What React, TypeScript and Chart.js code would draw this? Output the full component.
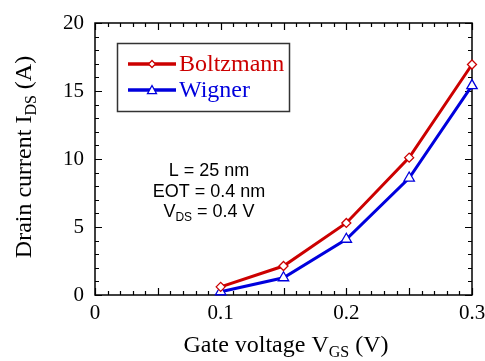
import React, { useEffect, useRef } from "react";
import { Chart, registerables } from "chart.js";

Chart.register(...registerables);

const gateVoltage = [0.1, 0.15, 0.2, 0.25, 0.3];
const boltzmann = [0.6, 2.13, 5.3, 10.1, 16.95];
const wigner = [0.24, 1.27, 4.1, 8.6, 15.4];
const seriesNames = ["Boltzmann", "Wigner"];
const seriesColors = ["#cc0000", "#0000dd"];
const xTickLabels = ["0", "0.1", "0.2", "0.3"];
const yTickLabels = ["0", "5", "10", "15", "20"];
const annotationLines = ["L = 25 nm", "EOT = 0.4 nm", "V_DS = 0.4 V"];

type Part = { t: string; sub?: boolean };

function parseParts(s: string): Part[] {
  const m = s.match(/^(.*?)([A-Z])_([A-Z]+)(.*)$/);
  if (!m) return [{ t: s }];
  return [{ t: m[1] + m[2] }, { t: m[3], sub: true }, { t: m[4] }];
}

function drawParts(
  ctx: CanvasRenderingContext2D,
  parts: Part[],
  cx: number,
  y: number,
  family: string,
  size: number,
  subSize: number,
  subDrop: number,
  color: string
) {
  const widths = parts.map((p) => {
    ctx.font = `${p.sub ? subSize : size}px ${family}`;
    return ctx.measureText(p.t).width;
  });
  const total = widths.reduce((a, b) => a + b, 0);
  let x = cx - total / 2;
  ctx.fillStyle = color;
  ctx.textAlign = "left";
  ctx.textBaseline = "alphabetic";
  parts.forEach((p, i) => {
    ctx.font = `${p.sub ? subSize : size}px ${family}`;
    ctx.fillText(p.t, x, p.sub ? y + subDrop : y);
    x += widths[i];
  });
}

const serif = "'Liberation Serif', 'Times New Roman', serif";

const decorPlugin = {
  id: "decor",
  beforeDatasetsDraw(chart: any) {
    const ctx: CanvasRenderingContext2D = chart.ctx;
    const { left, right, top, bottom } = chart.chartArea;
    const xs = chart.scales.x;
    const ys = chart.scales.y;
    ctx.save();
    ctx.strokeStyle = "#000";
    ctx.lineWidth = 1.2;
    for (let i = 0; i <= 30; i++) {
      const v = i / 100;
      const px = Math.round(xs.getPixelForValue(v)) + 0.5;
      const len = i % 5 === 0 ? 7 : 4;
      ctx.beginPath();
      ctx.moveTo(px, bottom);
      ctx.lineTo(px, bottom - len);
      ctx.moveTo(px, top);
      ctx.lineTo(px, top + len);
      ctx.stroke();
    }
    for (let i = 0; i <= 20; i++) {
      const py = Math.round(ys.getPixelForValue(i)) + 0.5;
      const len = i % 5 === 0 ? 7 : 4;
      ctx.beginPath();
      ctx.moveTo(left, py);
      ctx.lineTo(left + len, py);
      ctx.moveTo(right, py);
      ctx.lineTo(right - len, py);
      ctx.stroke();
    }
    ctx.lineWidth = 1.5;
    ctx.strokeRect(left, top, right - left, bottom - top);

    // annotation
    const ann = [175.5, 196.5, 216.5];
    annotationLines.forEach((line, i) => {
      drawParts(ctx, parseParts(line), 209, ann[i], "'Liberation Sans', Arial, sans-serif", 18, 12, 4, "#000");
    });

    // axis titles
    drawParts(ctx, [{ t: "Gate voltage V" }, { t: "GS", sub: true }, { t: " (V)" }], 286, 352, serif, 24, 16, 5, "#000");
    ctx.save();
    ctx.translate(31, 157);
    ctx.rotate(-Math.PI / 2);
    drawParts(ctx, [{ t: "Drain current I" }, { t: "DS", sub: true }, { t: " (A)" }], 0, 0, serif, 24, 16, 5, "#000");
    ctx.restore();

    // legend
    ctx.fillStyle = "#fff";
    ctx.fillRect(117, 43, 172, 68);
    ctx.strokeStyle = "#333";
    ctx.lineWidth = 1.5;
    ctx.strokeRect(117.5, 43.5, 172, 68);
    const ly = [64, 90];
    chart.data.datasets.forEach((ds: any, i: number) => {
      ctx.strokeStyle = ds.borderColor;
      ctx.lineWidth = 3.5;
      ctx.beginPath();
      ctx.moveTo(128, ly[i]);
      ctx.lineTo(176, ly[i]);
      ctx.stroke();
      ctx.fillStyle = "#fff";
      ctx.strokeStyle = ds.borderColor;
      ctx.lineWidth = 1.3;
      ctx.beginPath();
      if (i === 0) {
        const r = 3.5;
        ctx.moveTo(152, ly[i] - r);
        ctx.lineTo(152 + r, ly[i]);
        ctx.lineTo(152, ly[i] + r);
        ctx.lineTo(152 - r, ly[i]);
        ctx.closePath();
      } else {
        const r = 4.5;
        ctx.moveTo(152, ly[i] - r);
        ctx.lineTo(152 + r, ly[i] + r * 0.8);
        ctx.lineTo(152 - r, ly[i] + r * 0.8);
        ctx.closePath();
      }
      ctx.fill();
      ctx.stroke();
      ctx.font = `24px ${serif}`;
      ctx.fillStyle = ds.borderColor;
      ctx.textAlign = "left";
      ctx.textBaseline = "middle";
      ctx.fillText(seriesNames[i], 179, ly[i] + 1);
    });
    ctx.restore();
  },
};

export default function App() {
  const ref = useRef<HTMLCanvasElement>(null);
  useEffect(() => {
    document.body.style.margin = "0";
    const chart = new Chart(ref.current!, {
      type: "line",
      data: {
        datasets: [
          {
            label: seriesNames[0],
            data: gateVoltage.map((x, i) => ({ x, y: boltzmann[i] })),
            borderColor: seriesColors[0],
            backgroundColor: "#fff",
            borderWidth: 3,
            pointStyle: "rectRot",
            pointRadius: 4.5,
            pointBorderWidth: 1.3,
            pointBackgroundColor: "#fff",
            pointBorderColor: seriesColors[0],
            clip: false as any,
          },
          {
            label: seriesNames[1],
            data: gateVoltage.map((x, i) => ({ x, y: wigner[i] })),
            borderColor: seriesColors[1],
            backgroundColor: "#fff",
            borderWidth: 3,
            pointStyle: "triangle",
            pointRadius: 6,
            pointBorderWidth: 1.3,
            pointBackgroundColor: "#fff",
            pointBorderColor: seriesColors[1],
            clip: false as any,
          },
        ],
      },
      options: {
        animation: false,
        responsive: false,
        devicePixelRatio: 1,
        layout: { padding: { top: 23, right: 13, left: 0, bottom: 0 } },
        plugins: { legend: { display: false }, tooltip: { enabled: false } },
        scales: {
          x: {
            type: "linear",
            min: 0,
            max: 0.3,
            grid: { display: false, drawTicks: false },
            border: { display: false },
            afterFit: (s: any) => {
              s.height = 66;
              s.paddingLeft = 0;
              s.paddingRight = 0;
            },
            afterBuildTicks: (s: any) => {
              s.ticks = xTickLabels.map((l) => ({ value: parseFloat(l) }));
            },
            ticks: {
              padding: 6,
              color: "#000",
              font: { family: serif, size: 21 },
              maxRotation: 0,
              callback: (v: any) => {
                const idx = xTickLabels.findIndex((l) => Math.abs(parseFloat(l) - v) < 1e-9);
                return idx >= 0 ? xTickLabels[idx] : "";
              },
            },
          },
          y: {
            type: "linear",
            min: 0,
            max: 20,
            grid: { display: false, drawTicks: false },
            border: { display: false },
            afterFit: (s: any) => {
              s.width = 95;
              s.paddingTop = 0;
              s.paddingBottom = 0;
            },
            afterBuildTicks: (s: any) => {
              s.ticks = yTickLabels.map((l) => ({ value: parseFloat(l) }));
            },
            ticks: {
              padding: 11,
              color: "#000",
              font: { family: serif, size: 21 },
              callback: (v: any) => {
                const idx = yTickLabels.findIndex((l) => Math.abs(parseFloat(l) - v) < 1e-9);
                return idx >= 0 ? yTickLabels[idx] : "";
              },
            },
          },
        },
      },
      plugins: [decorPlugin],
    });
    return () => chart.destroy();
  }, []);
  return (
    <div style={{ width: 485, height: 361 }}>
      <canvas ref={ref} width={485} height={361} style={{ display: "block", width: 485, height: 361 }} />
    </div>
  );
}
